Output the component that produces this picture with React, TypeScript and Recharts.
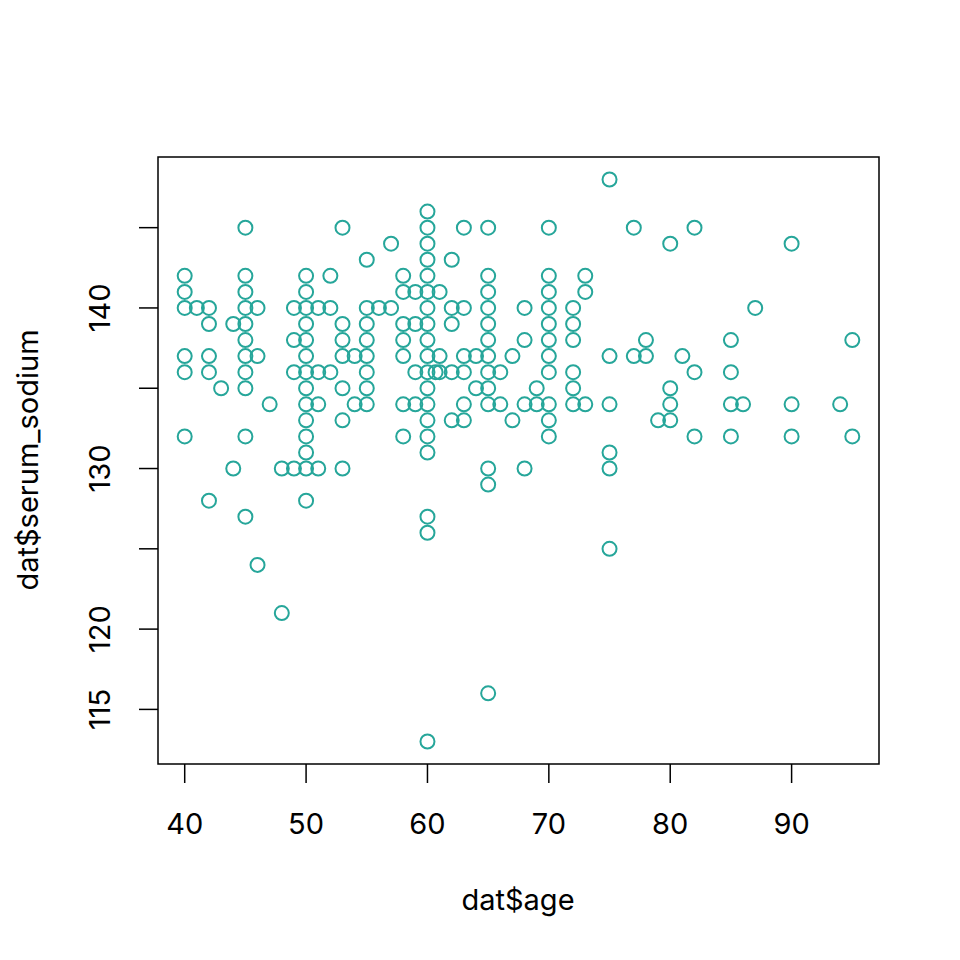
import React from 'react';
import { ScatterChart, Scatter, XAxis, YAxis, ReferenceArea } from 'recharts';

// age values, one per patient
const ages = [
  40, 40, 40, 40, 40, 40,
  41,
  42, 42, 42, 42, 42,
  43,
  44, 44,
  45, 45, 45, 45, 45, 45, 45, 45, 45, 45, 45,
  46, 46, 46,
  47,
  48, 48,
  49, 49, 49, 49,
  50, 50, 50, 50, 50, 50, 50, 50, 50, 50, 50, 50, 50, 50,
  51, 51, 51, 51,
  52, 52, 52,
  53, 53, 53, 53, 53, 53, 53,
  54, 54,
  55, 55, 55, 55, 55, 55, 55, 55,
  56,
  57, 57,
  58, 58, 58, 58, 58, 58, 58,
  59, 59, 59, 59,
  60, 60, 60, 60, 60, 60, 60, 60, 60, 60, 60, 60, 60, 60, 60, 60, 60, 60, 60,
  60.667,
  61, 61, 61,
  62, 62, 62, 62, 62,
  63, 63, 63, 63, 63, 63,
  64, 64,
  65, 65, 65, 65, 65, 65, 65, 65, 65, 65, 65, 65, 65,
  66, 66,
  67, 67,
  68, 68, 68, 68,
  69, 69,
  70, 70, 70, 70, 70, 70, 70, 70, 70, 70, 70,
  72, 72, 72, 72, 72, 72,
  73, 73, 73,
  75, 75, 75, 75, 75, 75,
  77, 77,
  78, 78,
  79,
  80, 80, 80, 80,
  81,
  82, 82, 82,
  85, 85, 85, 85,
  86,
  87,
  90, 90, 90,
  94,
  95, 95,
];

const serumSodium = [
  142, 141, 140, 137, 136, 132,
  140,
  140, 139, 137, 136, 128,
  135,
  139, 130,
  145, 142, 141, 140, 139, 138, 137, 136, 135, 132, 127,
  140, 137, 124,
  134,
  130, 121,
  140, 138, 136, 130,
  142, 141, 140, 139, 138, 137, 136, 135, 134, 133, 132, 131, 130, 128,
  140, 136, 134, 130,
  142, 140, 136,
  145, 139, 138, 137, 135, 133, 130,
  137, 134,
  143, 140, 139, 138, 137, 136, 135, 134,
  140,
  144, 140,
  142, 141, 139, 138, 137, 134, 132,
  141, 139, 136, 134,
  146, 145, 144, 143, 142, 141, 140, 139, 138, 137, 136, 135, 134, 133, 132, 131, 127, 126, 113,
  136,
  141, 137, 136,
  143, 140, 139, 136, 133,
  145, 140, 137, 136, 134, 133,
  137, 135,
  145, 142, 141, 140, 139, 138, 137, 136, 135, 134, 130, 129, 116,
  136, 134,
  137, 133,
  140, 138, 134, 130,
  135, 134,
  145, 142, 141, 140, 139, 138, 137, 136, 134, 133, 132,
  140, 139, 138, 136, 135, 134,
  142, 141, 134,
  148, 137, 134, 131, 130, 125,
  145, 137,
  138, 137,
  133,
  144, 135, 134, 133,
  137,
  145, 136, 132,
  138, 136, 134, 132,
  134,
  140,
  144, 134, 132,
  134,
  138, 132,
];

const xTicks = [40, 50, 60, 70, 80, 90];
const yTicks = [115, 120, 125, 130, 135, 140, 145];
const yTickLabels = [115, 120, 130, 140];

const xDomain = [37.8, 97.2];
const yDomain = [111.6, 149.4];

const data = ages.map((a, i) => ({ age: a, sodium: serumSodium[i] }));

const FONT = 'Inter, "DejaVu Sans", sans-serif';
const POINT_COLOR = '#26A69A';

const XTick = (props: any) => {
  const { x, y, payload } = props;
  return (
    <g>
      <line x1={x} y1={y} x2={x} y2={y + 19} stroke="#000" strokeWidth={1.5} />
      <text x={x} y={y + 59} textAnchor="middle" dominantBaseline="central" fontFamily={FONT} fontSize={29} fill="#000">
        {payload.value}
      </text>
    </g>
  );
};

const YTick = (props: any) => {
  const { x, y, payload } = props;
  const show = yTickLabels.includes(payload.value);
  return (
    <g>
      <line x1={x - 19} y1={y} x2={x} y2={y} stroke="#000" strokeWidth={1.5} />
      {show && (
        <text
          x={x - 58}
          y={y}
          textAnchor="middle"
          dominantBaseline="central"
          fontFamily={FONT}
          fontSize={29}
          fill="#000"
          transform={`rotate(-90, ${x - 58}, ${y})`}
        >
          {payload.value}
        </text>
      )}
    </g>
  );
};

const Ring = (props: any) => (
  <circle cx={props.cx} cy={props.cy} r={7} fill="none" stroke={POINT_COLOR} strokeWidth={2} />
);

export default function App() {
  return (
    <div style={{ position: 'absolute', left: 0, top: 0, width: 960, height: 960, background: '#fff' }}>
      <ScatterChart width={960} height={960} margin={{ top: 157, right: 81, bottom: 0, left: 0 }}>
        <XAxis
          type="number"
          dataKey="age"
          domain={xDomain}
          ticks={xTicks}
          allowDataOverflow
          height={196}
          axisLine={false}
          tickLine={false}
          tickSize={0}
          tickMargin={0}
          tick={<XTick />}
          interval={0}
        />
        <YAxis
          type="number"
          dataKey="sodium"
          domain={yDomain}
          ticks={yTicks}
          allowDataOverflow
          width={158}
          axisLine={false}
          tickLine={false}
          tickSize={0}
          tickMargin={0}
          tick={<YTick />}
          interval={0}
        />
        <ReferenceArea
          x1={xDomain[0]}
          x2={xDomain[1]}
          y1={yDomain[0]}
          y2={yDomain[1]}
          fill="none"
          stroke="#000"
          strokeWidth={1.5}
          fillOpacity={0}
        />
        <Scatter data={data} shape={<Ring />} isAnimationActive={false} />
      </ScatterChart>
      <div
        style={{
          position: 'absolute',
          left: 0,
          top: 882,
          width: 1036,
          textAlign: 'center',
          fontFamily: FONT,
          fontSize: 29,
          lineHeight: '36px',
          color: '#000',
        }}
      >
        dat$age
      </div>
      <div
        style={{
          position: 'absolute',
          left: 28,
          top: 460,
          transform: 'translate(-50%, -50%) rotate(-90deg)',
          whiteSpace: 'nowrap',
          fontFamily: FONT,
          fontSize: 29,
          lineHeight: '36px',
          color: '#000',
        }}
      >
        dat$serum_sodium
      </div>
    </div>
  );
}
